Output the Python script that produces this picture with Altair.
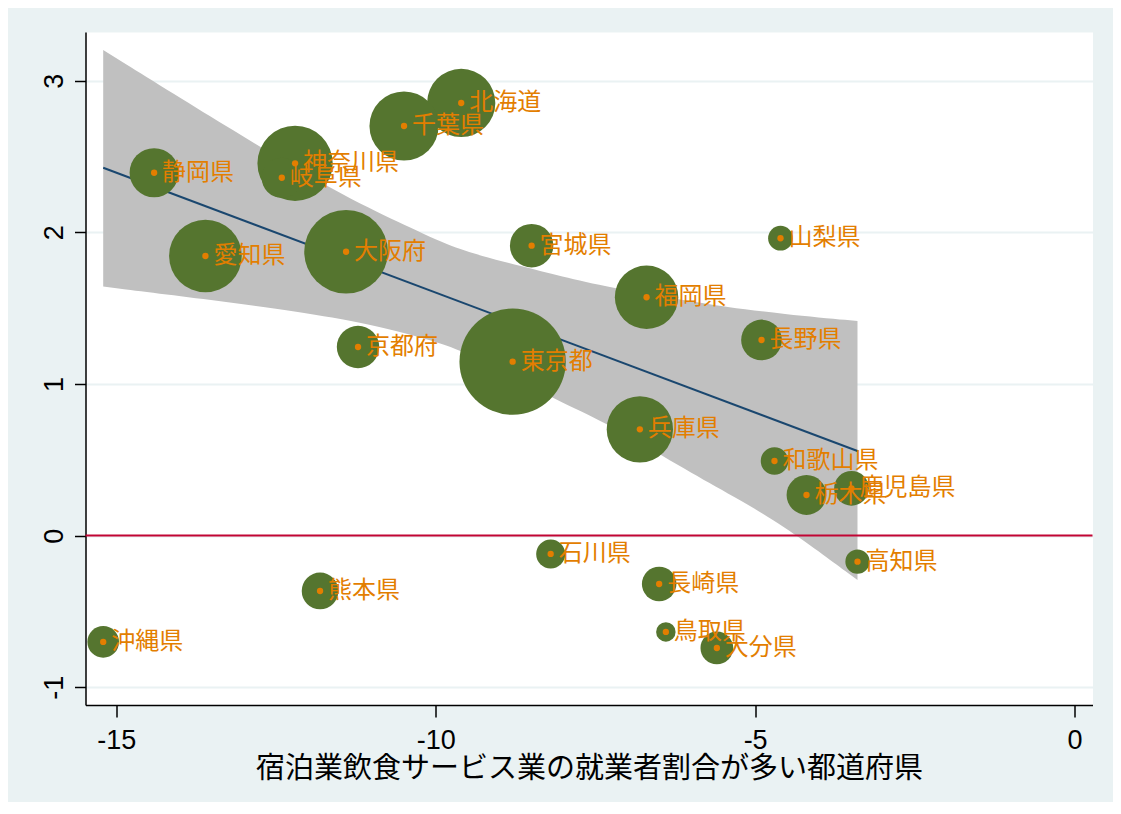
import altair as alt
import pandas as pd

# ---- data ----
names = ["北海道", "千葉県", "神奈川県", "岐阜県", "静岡県", "愛知県", "大阪府", "宮城県",
         "山梨県", "福岡県", "長野県", "東京都", "京都府", "兵庫県", "和歌山県", "栃木県",
         "鹿児島県", "高知県", "石川県", "長崎県", "鳥取県", "大分県", "熊本県", "沖縄県"]
x_vals = [-9.60, -10.495, -12.20, -12.408, -14.406, -13.603, -11.402, -8.498,
          -4.603, -6.699, -4.900, -8.795, -11.215, -6.804, -4.697, -4.196,
          -3.492, -3.398, -8.200, -6.502, -6.397, -5.599, -11.809, -15.203]
y_vals = [2.853, 2.701, 2.455, 2.360, 2.393, 1.844, 1.872, 1.912,
          1.961, 1.572, 1.290, 1.147, 1.244, 0.701, 0.492, 0.268,
          0.312, -0.172, -0.121, -0.319, -0.635, -0.741, -0.365, -0.701]
weights = [578, 593, 704, 200, 299, 656, 869, 234,
           76, 500, 206, 1404, 223, 546, 94, 197,
           150, 73, 104, 148, 47, 133, 167, 124]

# fitted line
fit_x = [-15.203, -3.398]
fit_y = [2.426, 0.558]

# confidence band
band_x = [-15.203, -13.06, -11.527, -10.558, -9.79, -9.29, -8.665, -8.04,
          -7.273, -6.147, -5.458, -4.582, -3.398]
band_hi = [3.202, 2.642, 2.257, 2.062, 1.910, 1.845, 1.778, 1.710,
           1.636, 1.554, 1.508, 1.462, 1.415]
band_lo = [1.642, 1.532, 1.437, 1.345, 1.255, 1.155, 1.015, 0.880,
           0.732, 0.448, 0.286, 0.078, -0.293]

x_ticks = [-15, -10, -5, 0]
y_ticks = [-1, 0, 1, 2, 3]
x_title = "宿泊業飲食サービス業の就業者割合が多い都道府県"

pts = pd.DataFrame({"name": names, "x": x_vals, "y": y_vals, "w": weights})
fit = pd.DataFrame({"x": fit_x, "y": fit_y})
band = pd.DataFrame({"x": band_x, "hi": band_hi, "lo": band_lo})
zero = pd.DataFrame({"y": [0]})

xs = alt.Scale(domain=[-15.48, 0.28], nice=False, zero=False)
ys = alt.Scale(domain=[-1.117, 3.321], nice=False, zero=False)

GREEN = "#55752F"
ORANGE = "#E37E00"
NAVY = "#1A476F"
RED = "#C10534"
GRAY = "#C0C0C0"
BG = "#EAF2F3"

x_axis = alt.Axis(values=x_ticks, grid=False, tickSize=12, labelPadding=10,
                  labelExpr="datum.value + ''",
                  labelFontSize=27, labelFont="Liberation Sans", labelColor="black",
                  domainColor="black", tickColor="black", domainWidth=1.5, tickWidth=1.5,
                  title=x_title, titleFont="Noto Sans CJK JP", titleFontSize=29,
                  titleFontWeight="normal", titleColor="black", titleY=72,
                  titleBaseline="alphabetic", labelFlush=False, labelOverlap=False)
y_axis = alt.Axis(values=y_ticks, grid=True, gridColor=BG, gridWidth=2,
                  labelExpr="datum.value + ''",
                  tickSize=11, labelPadding=5.6, labelAngle=270, labelAlign="center",
                  labelBaseline="bottom", labelFontSize=27, labelFont="Liberation Sans",
                  labelColor="black", domainColor="black", tickColor="black",
                  domainWidth=1.5, tickWidth=1.5, title=None, labelFlush=False,
                  labelOverlap=False)

band_layer = alt.Chart(band).mark_area(color=GRAY, interpolate="basis", opacity=1).encode(
    x=alt.X("x:Q", scale=xs, axis=x_axis),
    y=alt.Y("hi:Q", scale=ys, axis=y_axis),
    y2="lo:Q",
)

zero_layer = alt.Chart(zero).mark_rule(color=RED, strokeWidth=2).encode(
    y=alt.Y("y:Q", scale=ys)
)

fit_layer = alt.Chart(fit).mark_line(color=NAVY, strokeWidth=2).encode(
    x=alt.X("x:Q", scale=xs),
    y=alt.Y("y:Q", scale=ys),
)

bubble_layer = alt.Chart(pts).mark_circle(color=GREEN, opacity=1).encode(
    x=alt.X("x:Q", scale=xs),
    y=alt.Y("y:Q", scale=ys),
    size=alt.Size("w:Q", scale=alt.Scale(domain=[0, 1404], range=[0, 11310]), legend=None),
)

dot_layer = alt.Chart(pts).mark_circle(color=ORANGE, opacity=1, size=40).encode(
    x=alt.X("x:Q", scale=xs),
    y=alt.Y("y:Q", scale=ys),
)

label_layer = alt.Chart(pts).mark_text(
    align="left", baseline="middle", dx=8, fontSize=24,
    font="Noto Sans CJK JP", color=ORANGE
).encode(
    x=alt.X("x:Q", scale=xs),
    y=alt.Y("y:Q", scale=ys),
    text="name:N",
)

chart = alt.layer(
    band_layer, zero_layer, fit_layer, bubble_layer, dot_layer, label_layer
).properties(
    width=1007, height=673,
    background=BG,
    padding={"left": 77.5, "top": 24, "right": 20.5, "bottom": 97},
    autosize=alt.AutoSizeParams(type="none"),
).configure_view(
    fill="white", stroke="transparent"
)

chart.save("out.html", embed_options={"renderer": "svg", "actions": False})
